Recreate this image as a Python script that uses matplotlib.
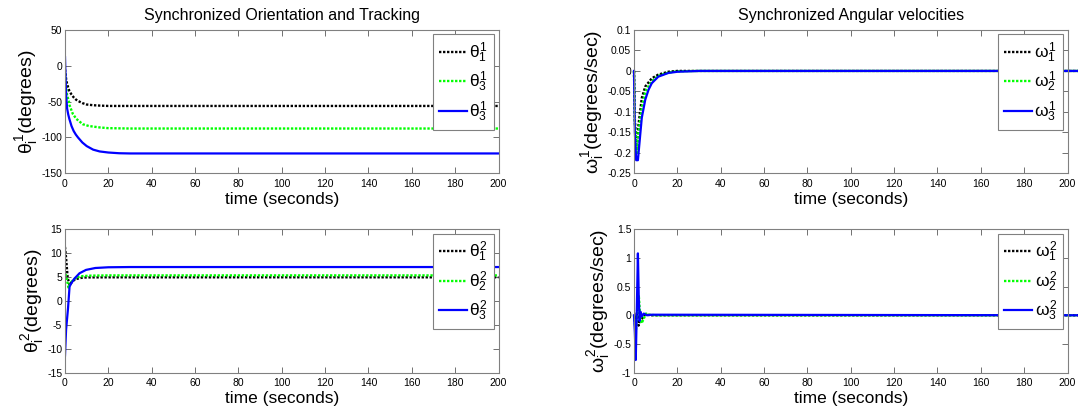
import numpy as np
import matplotlib
matplotlib.use("Agg")
from matplotlib import pyplot as plt
from matplotlib.ticker import FormatStrFormatter

plt.rcParams['font.family'] = ['Liberation Sans', 'DejaVu Sans']
plt.rcParams['mathtext.fontset'] = 'custom'
plt.rcParams['mathtext.rm'] = 'Liberation Sans'
plt.rcParams['mathtext.it'] = 'Liberation Sans'
plt.rcParams['mathtext.bf'] = 'Liberation Sans:bold'
plt.rcParams['axes.unicode_minus'] = False

# ---- theta^1 (degrees) ----
t_th1_a = [0, 0.5, 1, 2, 3, 4, 5, 6, 8, 10, 13, 16, 20, 30, 200]
th1_a = [-5, -18, -26, -35, -40, -44, -47, -49, -52, -54, -55, -55.5, -56, -56, -56]
t_th1_b = [0, 0.5, 1, 1.7, 2.1, 3.6, 5.2, 8.2, 11, 16, 20, 30, 200]
th1_b = [-10, -30, -42, -48, -55, -67, -74, -81.5, -84, -86, -87, -87.5, -87.5]
t_th1_c = [0, 0.3, 0.6, 1, 1.5, 2, 3, 4, 5, 6, 8, 10, 13, 16, 20, 25, 30, 200]
th1_c = [12, -20, -45, -60, -68, -74, -84, -91, -96, -100, -107, -112, -117, -119.5, -121, -122, -122.3, -122.3]

# ---- omega^1 (degrees/sec) ----
t_w1_a = [0, 0.4, 1.2, 2.1, 3.6, 5.2, 8.2, 11.2, 15.8, 20, 30, 205]
w1_a = [0, -0.12, -0.19, -0.13, -0.066, -0.038, -0.018, -0.009, -0.002, 0, 0, 0]
t_w1_b = [0, 0.4, 1.5, 2.1, 3.6, 5.2, 8.2, 11.2, 15.8, 20, 30, 205]
w1_b = [0, -0.13, -0.20, -0.15, -0.09, -0.05, -0.025, -0.012, -0.004, -0.001, 0, 0]
t_w1_c = [0, 0.4, 1.0, 1.8, 2.9, 3.6, 5.2, 6.7, 8.2, 11.2, 15.8, 20, 30, 205]
w1_c = [0, -0.15, -0.218, -0.218, -0.154, -0.114, -0.07, -0.046, -0.03, -0.014, -0.005, -0.002, 0, 0]

# ---- theta^2 (degrees) ----
t_th2_a = [0, 0.5, 1.2, 2.1, 3.6, 5.2, 8.2, 11, 20, 30, 200]
th2_a = [11.3, 9, 5, 3.3, 4.2, 4.6, 4.9, 4.93, 4.95, 4.95, 4.95]
t_th2_b = [0, 0.5, 1.6, 2.9, 5.2, 8.2, 12, 20, 30, 200]
th2_b = [5.6, 5.4, 2.8, 4.0, 4.9, 5.2, 5.3, 5.35, 5.35, 5.35]
t_th2_c = [0, 0.5, 1.4, 2.1, 2.9, 4.4, 6.7, 9.7, 14, 20, 30, 200]
th2_c = [-11.4, -6, -1.5, 3, 3.7, 4.7, 5.8, 6.5, 6.9, 7.05, 7.1, 7.1]

# ---- omega^2 (degrees/sec) ----
t_w2_a = [0, 0.8, 1.5, 2.1, 2.8, 3.5, 4.5, 6, 8, 205]
w2_a = [0, -0.1, 0.1, -0.18, -0.05, -0.08, 0.0, 0.01, 0, 0]
t_w2_b = [0, 0.8, 1.5, 2.2, 2.9, 3.5, 4.5, 5.5, 7, 10, 205]
w2_b = [0, -0.3, 0.0, 0.35, -0.05, -0.14, -0.06, 0.03, 0.01, 0, 0]
t_w2_c = [0, 0.4, 0.8, 1.3, 1.8, 2.2, 2.6, 3.05, 3.6, 4.5, 6, 8, 205]
w2_c = [0, -0.3, -0.78, 0.1, 1.08, 0.3, -0.1, 0.06, -0.02, 0.03, 0.0, 0.01, 0]

xticks = np.arange(0, 201, 20)

panels = [
    dict(pos=[65, 30], series=[(t_th1_a, th1_a), (t_th1_b, th1_b), (t_th1_c, th1_c)],
         labels=[r'$\theta_1^1$', r'$\theta_3^1$', r'$\theta_3^1$'],
         ylabel=r'$\theta_i^1$(degrees)', ylim=(-150, 50), ystep=50,
         title='Synchronized Orientation and Tracking', clip=True),
    dict(pos=[634, 30], series=[(t_w1_a, w1_a), (t_w1_b, w1_b), (t_w1_c, w1_c)],
         labels=[r'$\omega_1^1$', r'$\omega_2^1$', r'$\omega_3^1$'],
         ylabel=r'$\omega_i^1$(degrees/sec)', ylim=(-0.25, 0.1), ystep=0.05,
         title='Synchronized Angular velocities', clip=False),
    dict(pos=[65, 229.3], series=[(t_th2_a, th2_a), (t_th2_b, th2_b), (t_th2_c, th2_c)],
         labels=[r'$\theta_1^2$', r'$\theta_2^2$', r'$\theta_3^2$'],
         ylabel=r'$\theta_i^2$(degrees)', ylim=(-15, 15), ystep=5,
         title=None, clip=True),
    dict(pos=[634, 229.3], series=[(t_w2_a, w2_a), (t_w2_b, w2_b), (t_w2_c, w2_c)],
         labels=[r'$\omega_1^2$', r'$\omega_2^2$', r'$\omega_3^2$'],
         ylabel=r'$\omega_i^2$(degrees/sec)', ylim=(-1, 1.5), ystep=0.5,
         title=None, clip=False),
]

W, H = 1078, 412
fig = plt.figure(figsize=(W / 100, H / 100), dpi=100)
styles = [dict(color='k', ls=(0, (1, 0.7)), lw=1.7),
          dict(color=(0, 1, 0), ls=(0, (1, 0.7)), lw=1.7),
          dict(color=(0, 0, 1), ls='-', lw=1.6)]

for p in panels:
    x0, y0 = p['pos']
    ax = fig.add_axes([x0 / W, 1 - (y0 + 143.3) / H, 433.5 / W, 143.3 / H])
    for (t, v), st, lab in zip(p['series'], styles, p['labels']):
        ax.plot(t, v, label=lab, clip_on=p['clip'], **st)
    ax.set_xlim(0, 200)
    ax.set_ylim(*p['ylim'])
    ax.set_xticks(xticks)
    lo, hi = p['ylim']
    ax.set_yticks(np.round(np.arange(lo, hi + p['ystep'] / 2, p['ystep']), 3) + 0.0)
    ax.yaxis.set_major_formatter(FormatStrFormatter('%g'))
    ax.tick_params(direction='in', top=True, right=True, length=4, width=0.6,
                   labelsize=7.5, colors='0.35', labelcolor='k')
    ax.tick_params(axis='x', pad=4)
    ax.tick_params(axis='y', pad=2)
    for s in ax.spines.values():
        s.set_color('0.5')
        s.set_linewidth(0.8)
    ax.set_xlabel('time (seconds)', fontsize=12.5, labelpad=2)
    ax.set_ylabel(p['ylabel'], fontsize=14, labelpad=1)
    if p['title']:
        ax.set_title(p['title'], fontsize=11.5, pad=7)
    leg = ax.legend(loc='upper right', fontsize=12.5, handlelength=1.6,
                    handletextpad=0.15, labelspacing=0.3, borderpad=0.35,
                    borderaxespad=0.25, framealpha=1, fancybox=False,
                    edgecolor='0.5')
    leg.get_frame().set_linewidth(0.8)

fig.savefig('out.png', dpi=100)
